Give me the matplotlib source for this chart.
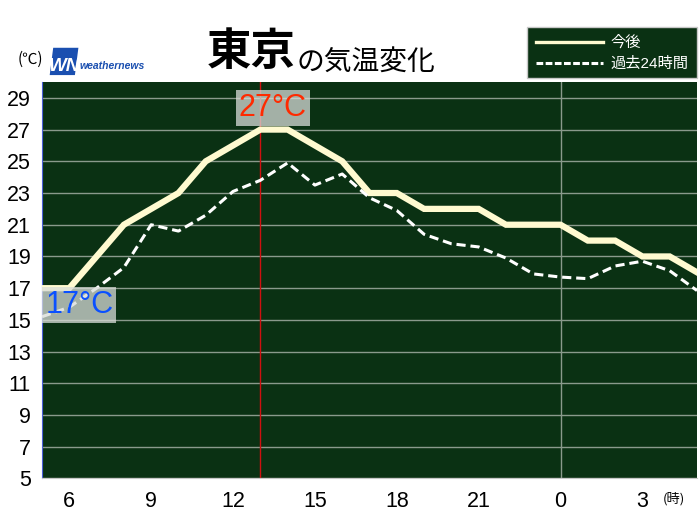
import matplotlib
matplotlib.use("Agg")
import matplotlib.pyplot as plt
from matplotlib.patches import Rectangle, Polygon

plt.rcParams['font.family'] = ['Liberation Sans', 'Noto Sans CJK JP', 'DejaVu Sans']

# hours from 5:00 to 5:00 next day (24 = 0 o'clock)
hours = list(range(5, 30))
forecast = [17, 17, 19, 21, 22, 23, 25, 26, 27, 27, 26, 25, 23, 23, 22, 22, 22,
            21, 21, 21, 20, 20, 19, 19, 18]
past24 = [15.2, 15.8, 17.0, 18.3, 21.0, 20.6, 21.6, 23.1, 23.8, 24.9, 23.5, 24.2,
          22.7, 21.9, 20.4, 19.8, 19.6, 18.9, 17.9, 17.7, 17.6, 18.4, 18.7, 18.1, 16.85]
xticks = [6, 9, 12, 15, 18, 21, 24, 27]
xtick_labels = ["6", "9", "12", "15", "18", "21", "0", "3"]
yticks = list(range(5, 30, 2))
now_hour = 13
max_label = "27°C"
min_label = "17°C"

bg = "#0a3113"
fig = plt.figure(figsize=(7, 5.25), dpi=100)
ax = fig.add_axes([0.06, 0.0886, 0.9357, 0.7552])
ax.set_facecolor(bg)
ax.set_xlim(5, 29)
ax.set_ylim(5, 30)

for y in yticks:
    ax.axhline(y, color="#8a9a8c", lw=1, zorder=1)
ax.axvline(24, color="#8a9a8c", lw=1, zorder=1)
ax.axvline(now_hour, color="#d01010", lw=1, zorder=2)

ax.plot(hours, forecast, color="#fffad0", lw=4.5, solid_joinstyle="miter", zorder=3)
ax.plot(hours, past24, color="white", lw=2.2, dashes=(3, 1.6), zorder=4)

ax.set_xticks(xticks)
ax.set_xticklabels(xtick_labels)
ax.set_yticks(yticks)
ax.tick_params(length=0, labelsize=15.5, pad=8)
ax.tick_params(axis="x", pad=9)
for s in ["top", "right"]:
    ax.spines[s].set_visible(False)
ax.spines["left"].set_color("#4a5fd8")
ax.spines["bottom"].set_color("#c8c8c8")

box = dict(boxstyle="square,pad=0.1", facecolor="#d8dcd8", edgecolor="none", alpha=0.75)
ax.text(13.45, 27.4, max_label, color="#ff2a00", fontsize=22, ha="center", va="bottom",
        bbox=box, zorder=6)
ax.text(5.12, 15.0, min_label, color="#0a50ff", fontsize=22, ha="left", va="bottom",
        bbox=box, zorder=6)

# title
fig.text(0.295, 0.876, "東京", fontsize=32, fontweight="bold", family="Noto Sans CJK JP",
         ha="left", va="baseline")
fig.text(0.423, 0.868, "の気温変化", fontsize=20, family="Noto Sans CJK JP",
         ha="left", va="baseline")

# unit + logo
fig.text(0.025, 0.878, "(℃)", fontsize=11, family=["Noto Sans CJK JP"], ha="left", va="baseline")
fig.patches.append(Polygon([(0.071, 0.857), (0.107, 0.857), (0.112, 0.909), (0.076, 0.909)],
                           closed=True, transform=fig.transFigure, facecolor="#1a4fb0",
                           edgecolor="none"))
fig.text(0.092, 0.864, "WN", fontsize=13.5, color="white", fontweight="bold", style="italic",
         ha="center", va="baseline")
fig.text(0.114, 0.868, "weathernews", fontsize=7.5, color="#1a4fb0", fontweight="bold",
         style="italic", ha="left", va="baseline")

fig.text(0.963, 0.042, "(時)", fontsize=9.5, family="Noto Sans CJK JP", ha="center", va="baseline")

# legend box
fig.patches.append(Rectangle((0.753, 0.851), 0.243, 0.097, transform=fig.transFigure,
                             facecolor=bg, edgecolor="#c8c8c8", lw=1))
fig.lines.append(plt.Line2D([0.765, 0.862], [0.920, 0.920], transform=fig.transFigure,
                            color="#fffad0", lw=2.4))
fig.lines.append(plt.Line2D([0.765, 0.862], [0.880, 0.880], transform=fig.transFigure,
                            color="white", lw=2.2, dashes=(2.2, 0.8)))
fig.text(0.872, 0.920, "今後", fontsize=11, color="white", family="Noto Sans CJK JP",
         va="center")
fig.text(0.872, 0.878, "過去24時間", fontsize=11, color="white",
         family=["Liberation Sans", "Noto Sans CJK JP"], va="center")

fig.savefig("out.png", dpi=100)
